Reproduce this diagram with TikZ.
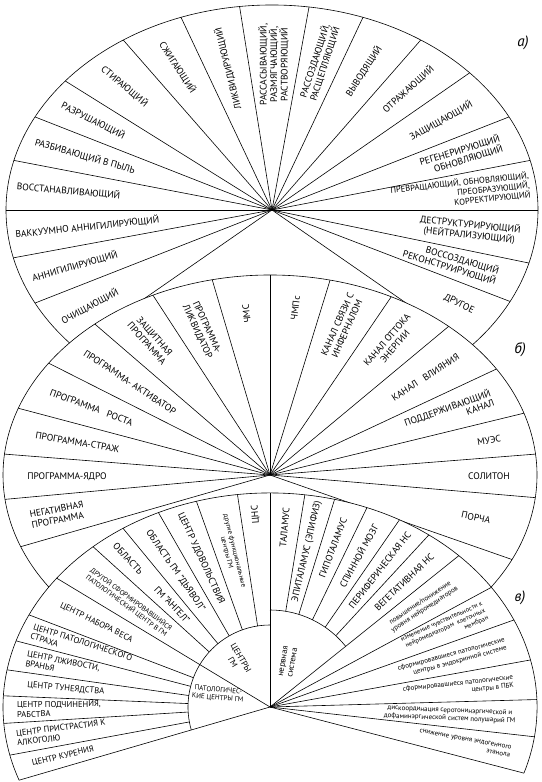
\documentclass[tikz,border=0pt]{standalone}
\usepackage{fontspec}
\setmainfont{PT Sans}
\usetikzlibrary{calc}

\begin{document}
\begin{tikzpicture}[x=1pt, y=1pt, line width=0.6pt,
  every node/.style={inner sep=0pt, align=center},
  big/.style={font=\fontsize{9.5}{10.5}\selectfont},
  mid/.style={font=\fontsize{8.5}{9.5}\selectfont},
  sml/.style={font=\fontsize{7}{8}\selectfont},
  tny/.style={font=\fontsize{6.6}{7.6}\selectfont},
  tag/.style={font=\fontsize{15}{15}\selectfont\itshape}]
\useasboundingbox (0,0) rectangle (541,782);
\coordinate (ca) at (272,572);
\coordinate (cb) at (270,307);
\coordinate (cc) at (270,75);

% а) fan
\draw (ca) ++(-50:266pt and 205pt) arc[start angle=-50, end angle=230, x radius=266pt, y radius=205pt];
\foreach \t in {222,207,193.5,180,166,153,141,124,110,97,82,70,56,42,27,14,0,-15,-26.5,-42}
  \draw (ca) -- ++(\t:266pt and 205pt);
\path (ca) ++(214.5:221pt and 170pt) node[big, rotate=28] (ochish) {ОЧИЩАЮЩИЙ};
\path (ca) ++(200.25:210pt and 162pt) node[big, rotate=16] (annig) {АННИГИЛИРУЮЩИЙ};
\path (ca) ++(186.75:186pt and 143.5pt) node[big, rotate=6] (vakuum) {ВАККУУМНО АННИГИЛИРУЮЩИЙ};
\path (ca) ++(173:205pt and 158pt) node[big, rotate=-5] (vosst) {ВОССТАНАВЛИВАЮЩИЙ};
\path (ca) ++(159.5:199.5pt and 154pt) node[big, rotate=-16] (pyl) {РАЗБИВАЮЩИЙ В ПЫЛЬ};
\path (ca) ++(147:213pt and 164pt) node[big, rotate=-27] (razrush) {РАЗРУШАЮЩИЙ};
\path (ca) ++(132.5:218pt and 168pt) node[big, rotate=-40] (stir) {СТИРАЮЩИЙ};
\path (ca) ++(117:207.5pt and 160pt) node[big, rotate=-57] (szhig) {СЖИГАЮЩИЙ};
\path (ca) ++(103.5:189pt and 145.5pt) node[big, rotate=104] (likv) {ЛИКВИДИРУЮЩИЙ};
\path (ca) ++(89.5:189pt and 145.5pt) node[big, rotate=90] (rassas) {РАССАСЫВАЮЩИЙ,\\РАЗМЯГЧАЮЩИЙ,\\РАСТВОРЯЮЩИЙ};
\path (ca) ++(76:197pt and 152pt) node[big, rotate=72] (rassoz) {РАССОЗДАЮЩИЙ,\\РАСЩЕПЛЯЮЩИЙ};
\path (ca) ++(63:202pt and 156pt) node[big, rotate=57] (vyvod) {ВЫВОДЯЩИЙ};
\path (ca) ++(49:207.5pt and 160pt) node[big, rotate=42] (otrazh) {ОТРАЖАЮЩИЙ};
\path (ca) ++(34.5:205pt and 158pt) node[big, rotate=29] (zashch) {ЗАЩИЩАЮЩИЙ};
\path (ca) ++(20.5:202pt and 156pt) node[big, rotate=17, align=right] (regen) {РЕГЕНЕРИРУЮЩИЙ\\ОБНОВЛЯЮЩИЙ};
\path (ca) ++(7:190pt and 146pt) node[mid, rotate=6, align=right] (prevr) {ПРЕВРАЩАЮЩИЙ, ОБНОВЛЯЮЩИЙ,\\ПРЕОБРАЗУЮЩИЙ,\\КОРРЕКТИРУЮЩИЙ};
\path (ca) ++(-7.5:199.5pt and 154pt) node[big, rotate=-6] (destr) {ДЕСТРУКТУРИРУЮЩИЙ\\(НЕЙТРАЛИЗУЮЩИЙ)};
\path (ca) ++(-20.75:191.5pt and 147.6pt) node[big, rotate=-17, align=right] (vossoz) {ВОССОЗДАЮЩИЙ\\РЕКОНСТРУИРУЮЩИЙ};
\path (ca) ++(-33:223pt and 172pt) node[big, rotate=-26] (drugoe) {ДРУГОЕ};
\node[tag] (taga) at (523,739) {а)};

% б) fan
\fill[white] (cb) ellipse[x radius=267pt, y radius=200pt];
\draw (cb) ++(-40:267pt and 200pt) arc[start angle=-40, end angle=220, x radius=267pt, y radius=200pt];
\foreach \t in {201,187,174,160.5,146,131,116,102.5,90,77,63,48,32,18,6,-6.5,-25}
  \draw (cb) -- ++(\t:267pt and 200pt);
\path (cb) ++(123.5:216pt and 162pt) node[big, rotate=-48.5] (zashchprog) {ЗАЩИТНАЯ\\ПРОГРАММА};
\path (cb) ++(109.25:205.6pt and 154pt) node[big, rotate=-65] (likvid) {ПРОГРАММА-\\ЛИКВИДАТОР};
\path (cb) ++(96.25:216pt and 162pt) node[big, rotate=96] (chms) {ЧМС};
\path (cb) ++(83.5:224pt and 168pt) node[big, rotate=83] (chmps) {ЧМПс};
\path (cb) ++(70:211pt and 158pt) node[big, rotate=66] (infern) {КАНАЛ СВЯЗИ С\\ИНФЕРНАЛОМ};
\path (cb) ++(55.5:213.6pt and 160pt) node[big, rotate=49] (ottok) {КАНАЛ ОТТОКА\\ЭНЕРГИИ};
\path (cb) ++(40:203pt and 152pt) node[big, rotate=33] (vliyan) {КАНАЛ\hspace{0.8em}ВЛИЯНИЯ};
\path (cb) ++(25:197.6pt and 148pt) node[big, rotate=20, align=right] (podderzh) {ПОДДЕРЖИВАЮЩИЙ\\КАНАЛ};
\path (cb) ++(12:224pt and 168pt) node[big, rotate=9] (mues) {МУЭС};
\path (cb) ++(-0.25:219pt and 164pt) node[big, rotate=0] (soliton) {СОЛИТОН};
\path (cb) ++(-15.5:213.6pt and 160pt) node[big, rotate=-12] (porcha) {ПОРЧА};
\path (cb) ++(194:219pt and 164pt) node[big, rotate=10.6, align=left] (negat) {НЕГАТИВНАЯ\\ПРОГРАММА};
\path (cb) ++(180.5:203pt and 152pt) node[big, rotate=0] (yadro) {ПРОГРАММА-ЯДРО};
\path (cb) ++(167.25:197.6pt and 148pt) node[big, rotate=-9.6] (strazh) {ПРОГРАММА-СТРАЖ};
\path (cb) ++(153.25:200pt and 150pt) node[big, rotate=-20.7] (rost) {ПРОГРАММА\hspace{0.8em}РОСТА};
\path (cb) ++(138.5:187pt and 140pt) node[big, rotate=-33.5] (aktiv) {ПРОГРАММА- АКТИВАТОР};
\node[tag] (tagb) at (520,432) {б)};

% в) fan
\fill[white] (cc) ellipse[x radius=267pt, y radius=214pt];
\draw (cc) ++(-18:267pt and 214pt) arc[start angle=-18, end angle=200, x radius=267pt, y radius=214pt];
\foreach \t in {200,143,90,45,34,24,12.7,2,-8,-18}
  \draw (cc) -- ++(\t:267pt and 214pt);
\foreach \t in {193,184.4,177,170,162,154.5,131.5,123.4,114.7,106,97} {
  \path (cc) ++(\t:267pt and 214pt) coordinate (p);
  \draw ($(cc)!82pt!(p)$) -- (p);
}
\foreach \t in {82.5,76,68.7,61,53.5} {
  \path (cc) ++(\t:267pt and 214pt) coordinate (p);
  \draw ($(cc)!97pt!(p)$) -- (p);
}
\draw (cc) ++(90:82pt) arc[start angle=90, end angle=196.3, radius=82pt];
\draw (cc) ++(38.7:97pt) arc[start angle=38.7, end angle=90, radius=97pt];

\path (cc) ++(196.5:216pt and 173pt) node[mid, rotate=13.4] (kuren) {ЦЕНТР КУРЕНИЯ};
\path (cc) ++(188.7:211pt and 169pt) node[mid, rotate=7, align=left] (alkog) {ЦЕНТР ПРИСТРАСТИЯ К\\АЛКОГОЛЮ};
\path (cc) ++(180.7:211pt and 169pt) node[mid, rotate=0.6, align=left] (podchin) {ЦЕНТР ПОДЧИНЕНИЯ,\\РАБСТВА};
\path (cc) ++(173.5:205.6pt and 165pt) node[mid, rotate=-5.2] (tuneyad) {ЦЕНТР ТУНЕЯДСТВА};
\path (cc) ++(166:213.6pt and 171pt) node[mid, rotate=-11.3, align=left] (lzhiv) {ЦЕНТР ЛЖИВОСТИ,\\ВРАНЬЯ};
\path (cc) ++(158.25:203pt and 162.6pt) node[mid, rotate=-17.7, align=left] (strakh) {ЦЕНТР ПАТОЛОГИЧЕСКОГО\\СТРАХА};
\path (cc) ++(148.75:203pt and 162.6pt) node[mid, rotate=-26] (ves) {ЦЕНТР НАБОРА ВЕСА};
\path (cc) ++(137.25:192pt and 154pt) node[sml, rotate=-36.5] (drugoj) {ДРУГОЙ СФОРМИРОВАВШИЙСЯ\\ПАТОЛОГИЧЕСКИЙ ЦЕНТР В ГМ};
\path (cc) ++(127.45:195pt and 156pt) node[big, rotate=-46.3] (angel) {ОБЛАСТЬ\hspace{2.2em}ГМ "АНГЕЛ"};
\path (cc) ++(119:195pt and 156pt) node[big, rotate=-55.3] (dyavol) {ОБЛАСТЬ ГМ "ДЬЯВОЛ"};
\path (cc) ++(110.35:197.6pt and 158.4pt) node[big, rotate=-65.2] (udov) {ЦЕНТР УДОВОЛЬСТВИЯ};
\path (cc) ++(101.5:197.6pt and 158.4pt) node[sml, rotate=-75.8] (drugie) {другие функциональные\\центры ГМ};
\path (cc) ++(93.5:240pt and 192.6pt) node[big, rotate=94] (cns) {ЦНС};
\path (cc) ++(86.25:224pt and 180pt) node[big, rotate=85] (talam) {ТАЛАМУС};
\path (cc) ++(79.25:197.6pt and 158.4pt) node[big, rotate=77] (epital) {ЭПИТАЛАМУС (ЭПИФИЗ)};
\path (cc) ++(72.35:208pt and 167pt) node[big, rotate=69] (gipotal) {ГИПОТАЛАМУС};
\path (cc) ++(64.85:208pt and 167pt) node[big, rotate=61] (spinn) {СПИННОЙ МОЗГ};
\path (cc) ++(57.25:203pt and 162.6pt) node[big, rotate=52] (perif) {ПЕРИФЕРИЧЕСКАЯ НС};
\path (cc) ++(49.25:205.6pt and 164.8pt) node[big, rotate=44] (veget) {ВЕГЕТАТИВНАЯ НС};
\path (cc) ++(39.5:197.6pt and 158.4pt) node[sml, rotate=33.5] (povysh) {повышение/понижение\\уровня нейромедиаторов};
\path (cc) ++(29:200pt and 160pt) node[tny, rotate=24, align=right] (izmen) {изменение чувствительности к\\нейромедиаторам\hspace{0.5em}клеточных\\мембран};
\path (cc) ++(18.35:192pt and 154pt) node[sml, rotate=15, align=right] (endokr) {сформировавшиеся патологические\\центры в эндокринной системе};
\path (cc) ++(7.35:190pt and 152pt) node[sml, rotate=6, align=right] (pbk) {сформировавшиеся патологические\\центры в ПБК};
\path (cc) ++(-3:180pt and 144pt) node[sml, rotate=-2.4] (diskoord) {дискоординация серотонинэргической и\\дофаминэргической систем полушарий ГМ};
\path (cc) ++(-13:200pt and 160pt) node[sml, rotate=-10.5, align=right] (etanol) {снижение уровня эндогенного\\этанола};
\node[mid, rotate=-60] (centry) at (237,122) {ЦЕНТРЫ\\ГМ};
\node[sml, rotate=-5] (patcentry) at (218,88) {ПАТОЛОГИЧЕС-\\КИЕ ЦЕНТРЫ ГМ};
\node[mid, rotate=80] (nerv) at (288,120) {нервная\\система};
\node[tag] (tagv) at (520,184) {в)};
\end{tikzpicture}
\end{document}
